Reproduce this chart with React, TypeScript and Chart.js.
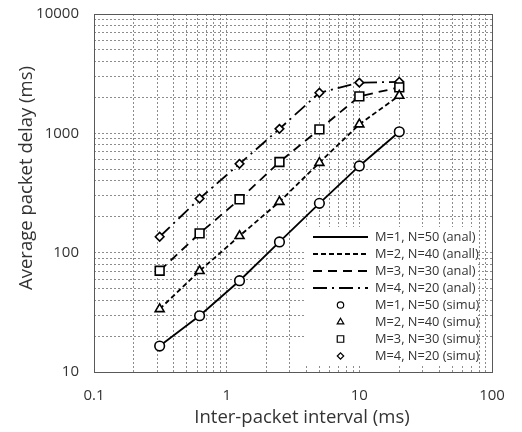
import React, { useEffect, useRef } from 'react';
import { Chart, registerables } from 'chart.js';
import { drawPoint } from 'chart.js/helpers';

Chart.register(...registerables);

// ---- data ----
const intervals = [0.3125, 0.625, 1.25, 2.5, 5, 10, 20];

const analM1 = [16.5, 29.6, 58.2, 123, 259, 533, 1030];
const analM2 = [33.7, 70.3, 138, 267, 567, 1190, 2070];
const analM3 = [70.6, 145, 280, 575, 1080, 2040, 2430];
const analM4 = [136, 284, 555, 1090, 2190, 2660, 2700];

const simuM1 = [16.5, 29.6, 58.2, 123, 259, 533, 1030];
const simuM2 = [33.7, 70.3, 138, 267, 567, 1190, 2070];
const simuM3 = [70.6, 145, 280, 575, 1080, 2040, 2430];
const simuM4 = [136, 284, 555, 1090, 2190, 2660, 2700];

const analLabels = ['M=1, N=50 (anal)', 'M=2, N=40 (anall)', 'M=3, N=30 (anal)', 'M=4, N=20 (anal)'];
const simuLabels = ['M=1, N=50 (simu)', 'M=2, N=40 (simu)', 'M=3, N=30 (simu)', 'M=4, N=20 (simu)'];

const xDecades = [0.1, 1, 10, 100];
const yDecades = [10, 100, 1000, 10000];

const xTitle = 'Inter-packet interval (ms)';
const yTitle = 'Average packet delay (ms)';

// ---- styles ----
const FONT = "'Open Sans', 'DejaVu Sans', sans-serif";
const TEXT = '#333333';
const dashes = [[], [5, 3], [9, 6], [14, 5, 2, 5]];
const markers = ['circle', 'triangle', 'rect', 'rectRot'];
const markerRadius = [4.8, 5.2, 6.2, 4.3];
const legendRadius = [3.2, 3.8, 4.6, 3.2];

const pts = (ys: number[]) => intervals.map((x, i) => ({ x, y: ys[i] }));

function minorTicks(decades: number[]) {
  const out: { value: number }[] = [];
  for (let d = 0; d < decades.length - 1; d++) {
    for (let m = 1; m <= 9; m++) {
      out.push({ value: Number((decades[d] * m).toPrecision(4)) });
    }
  }
  out.push({ value: decades[decades.length - 1] });
  return out;
}

const isDecade = (v: number) => Math.abs(Math.log10(v) - Math.round(Math.log10(v))) < 1e-9;

const decorPlugin = {
  id: 'decor',
  afterDraw(chart: any) {
    const { ctx, chartArea: a } = chart;
    ctx.save();
    // plot border
    ctx.strokeStyle = '#595959';
    ctx.lineWidth = 1;
    ctx.setLineDash([]);
    ctx.strokeRect(Math.round(a.left) + 0.5, Math.round(a.top) + 0.5, Math.round(a.right - a.left), Math.round(a.bottom - a.top));

    // legend box
    const lx = 305, ly = 227, lw = 173, lh = 139;
    ctx.fillStyle = '#ffffff';
    ctx.fillRect(lx, ly, lw, lh);

    const ds = chart.data.datasets;
    const rowY0 = 237, rowStep = 17;
    const sx0 = 313, sx1 = 368, tx = 375;
    ctx.font = `12.8px ${FONT}`;
    ctx.textBaseline = 'middle';
    ctx.textAlign = 'left';
    for (let i = 0; i < ds.length; i++) {
      const d = ds[i];
      const y = rowY0 + i * rowStep;
      if (d.showLine) {
        ctx.strokeStyle = '#000';
        ctx.lineWidth = d.borderWidth;
        ctx.setLineDash(d.borderDash || []);
        ctx.beginPath();
        ctx.moveTo(sx0, y);
        ctx.lineTo(sx1, y);
        ctx.stroke();
      } else {
        ctx.setLineDash([]);
        ctx.fillStyle = '#fff';
        ctx.strokeStyle = '#000';
        ctx.lineWidth = 1.2;
        drawPoint(ctx, { pointStyle: d.pointStyle, radius: d.legendRadius, rotation: 0, borderWidth: 1.2 }, (sx0 + sx1) / 2, y);
      }
      ctx.fillStyle = TEXT;
      ctx.fillText(d.label, tx, y + 0.5);
    }

    // axis titles
    ctx.fillStyle = TEXT;
    ctx.font = `18.5px ${FONT}`;
    ctx.textAlign = 'center';
    ctx.textBaseline = 'alphabetic';
    ctx.fillText(xTitle, 302, 423);
    ctx.translate(32, 178);
    ctx.rotate(-Math.PI / 2);
    ctx.fillText(yTitle, 0, 0);
    ctx.restore();
  },
};

export default function App() {
  const ref = useRef<HTMLCanvasElement>(null);
  useEffect(() => {
    if (!ref.current) return;
    const analSets = [analM1, analM2, analM3, analM4].map((ys, i) => ({
      label: analLabels[i],
      data: pts(ys),
      showLine: true,
      borderColor: '#000',
      borderWidth: 1.8,
      borderDash: dashes[i],
      pointRadius: 0,
      pointHoverRadius: 0,
      tension: 0,
      fill: false,
      order: 2,
    }));
    const simuSets = [simuM1, simuM2, simuM3, simuM4].map((ys, i) => ({
      label: simuLabels[i],
      data: pts(ys),
      showLine: false,
      borderColor: '#000',
      backgroundColor: '#fff',
      pointStyle: markers[i],
      pointRadius: markerRadius[i],
      pointBorderWidth: 1.6,
      pointBackgroundColor: '#fff',
      pointBorderColor: '#000',
      legendRadius: legendRadius[i],
      order: 1,
    }));
    const chart = new Chart(ref.current, {
      type: 'line',
      data: { datasets: [...analSets, ...simuSets] as any },
      options: {
        animation: false,
        responsive: false,
        devicePixelRatio: 1,
        layout: { padding: { top: 14, right: 30, left: 0, bottom: 0 } },
        plugins: { legend: { display: false }, tooltip: { enabled: false }, title: { display: false } },
        scales: {
          x: {
            type: 'logarithmic',
            min: xDecades[0],
            max: xDecades[xDecades.length - 1],
            afterBuildTicks: (s: any) => { s.ticks = minorTicks(xDecades); },
            afterFit: (s: any) => { s.height = 60; s.paddingLeft = 0; s.paddingRight = 0; },
            grid: { color: '#8c8c8c', lineWidth: 1, drawTicks: false },
            border: { display: false, dash: [2, 2] },
            ticks: {
              autoSkip: false,
              maxRotation: 0,
              padding: 15,
              color: TEXT,
              font: { family: FONT, size: 15 },
              callback: (v: any) => (isDecade(Number(v)) ? String(Number(v)) : ''),
            },
          },
          y: {
            type: 'logarithmic',
            min: yDecades[0],
            max: yDecades[yDecades.length - 1],
            afterBuildTicks: (s: any) => { s.ticks = minorTicks(yDecades); },
            afterFit: (s: any) => { s.width = 94; s.paddingTop = 0; s.paddingBottom = 0; },
            grid: { color: '#8c8c8c', lineWidth: 1, drawTicks: false },
            border: { display: false, dash: [2, 2] },
            ticks: {
              autoSkip: false,
              padding: 15,
              color: TEXT,
              font: { family: FONT, size: 15 },
              callback: (v: any) => (isDecade(Number(v)) ? String(Number(v)) : ''),
            },
          },
        },
      },
      plugins: [decorPlugin],
    });
    return () => chart.destroy();
  }, []);
  return (
    <div style={{ position: 'fixed', left: 0, top: 0, width: 522, height: 432, background: '#fff' }}>
      <canvas ref={ref} width={522} height={432} style={{ width: 522, height: 432, display: 'block' }} />
    </div>
  );
}
